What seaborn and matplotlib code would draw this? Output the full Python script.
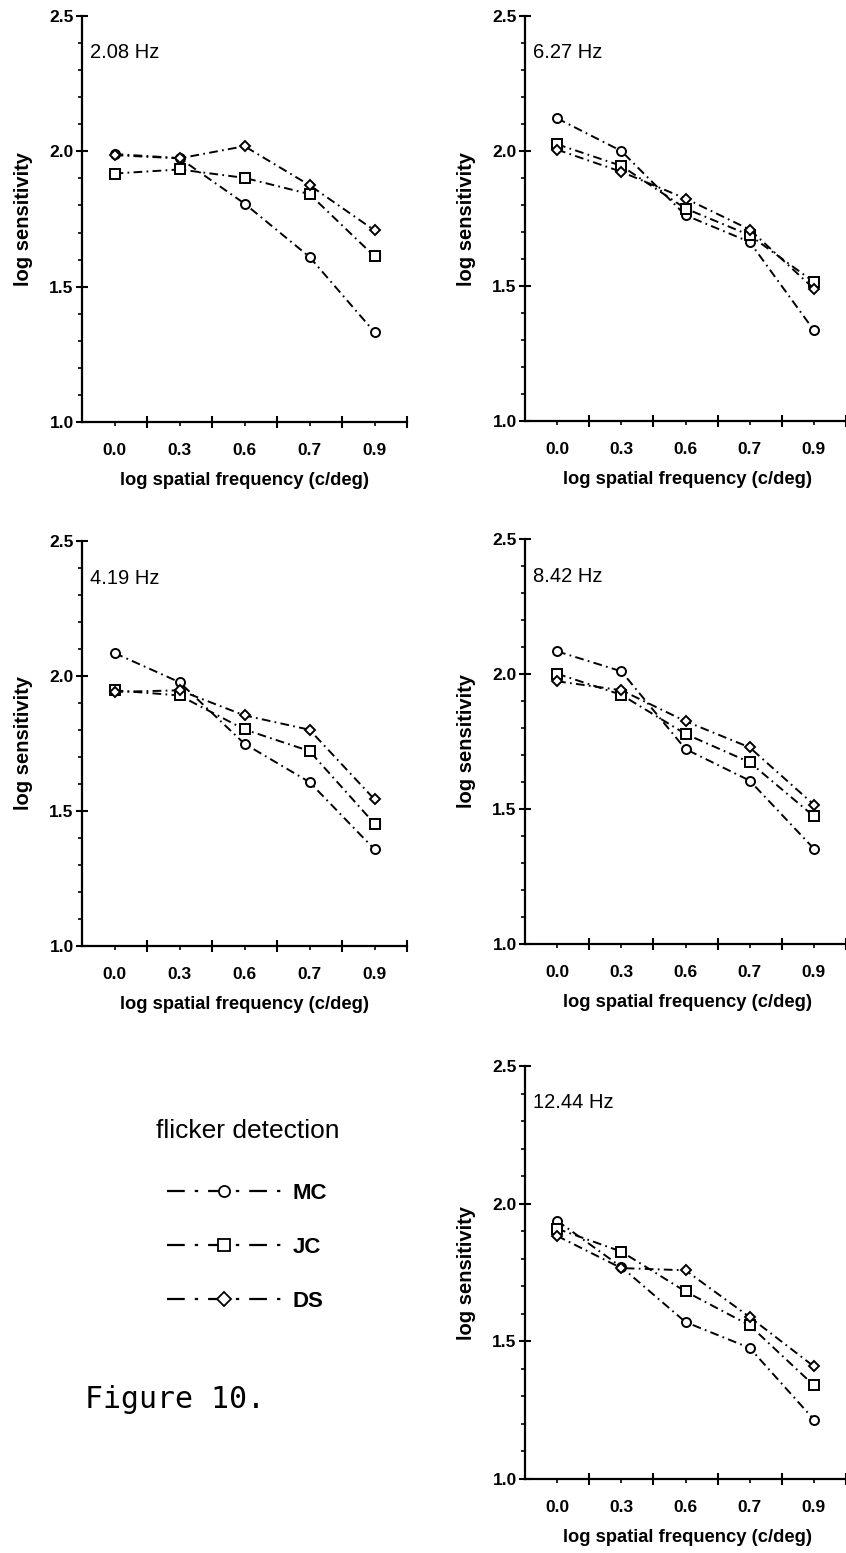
import matplotlib
matplotlib.use("Agg")
import numpy as np
import pandas as pd
import seaborn as sns
import matplotlib.pyplot as plt
from matplotlib.lines import Line2D

sns.set_theme(style="ticks")
plt.rcParams["font.family"] = ["Liberation Sans", "DejaVu Sans"]
plt.rcParams["text.color"] = "black"
plt.rcParams["axes.labelcolor"] = "black"
plt.rcParams["xtick.color"] = "black"
plt.rcParams["ytick.color"] = "black"

# ---------------- data ----------------
spatial_freq_labels = ["0.0", "0.3", "0.6", "0.7", "0.9"]
observers = ["MC", "JC", "DS"]
panel_titles = ["2.08 Hz", "6.27 Hz", "4.19 Hz", "8.42 Hz", "12.44 Hz"]

mc_208 = [1.990, 1.975, 1.807, 1.610, 1.332]
jc_208 = [1.918, 1.933, 1.902, 1.842, 1.612]
ds_208 = [1.986, 1.974, 2.019, 1.875, 1.708]

mc_627 = [2.121, 2.000, 1.762, 1.663, 1.336]
jc_627 = [2.025, 1.945, 1.787, 1.688, 1.515]
ds_627 = [2.005, 1.923, 1.824, 1.709, 1.490]

mc_419 = [2.085, 1.977, 1.749, 1.607, 1.358]
jc_419 = [1.947, 1.928, 1.802, 1.722, 1.453]
ds_419 = [1.941, 1.947, 1.854, 1.801, 1.543]

mc_842 = [2.084, 2.010, 1.722, 1.605, 1.353]
jc_842 = [2.001, 1.923, 1.778, 1.673, 1.473]
ds_842 = [1.973, 1.940, 1.825, 1.728, 1.516]

mc_1244 = [1.938, 1.770, 1.570, 1.476, 1.216]
jc_1244 = [1.909, 1.826, 1.681, 1.558, 1.340]
ds_1244 = [1.883, 1.766, 1.758, 1.588, 1.409]

panel_data = {
    "2.08 Hz": {"MC": mc_208, "JC": jc_208, "DS": ds_208},
    "6.27 Hz": {"MC": mc_627, "JC": jc_627, "DS": ds_627},
    "4.19 Hz": {"MC": mc_419, "JC": jc_419, "DS": ds_419},
    "8.42 Hz": {"MC": mc_842, "JC": jc_842, "DS": ds_842},
    "12.44 Hz": {"MC": mc_1244, "JC": jc_1244, "DS": ds_1244},
}

rows = []
for p, d in panel_data.items():
    for obs in observers:
        for i, v in enumerate(d[obs]):
            rows.append({"panel": p, "observer": obs, "pos": i,
                         "sf": spatial_freq_labels[i], "sens": v})
df = pd.DataFrame(rows)

# ---------------- styling ----------------
markers = {"MC": "o", "JC": "s", "DS": "D"}
msizes = {"MC": 6.5, "JC": 6.5, "DS": 5.5}
dash = (0, (4.5, 2.2, 0.9, 2.2))

W, H = 846, 1553
fig = plt.figure(figsize=(W / 100, H / 100), dpi=100)

# axes rectangles in pixels: left, top, right, bottom
rects = {
    "2.08 Hz": (82, 16, 407, 422),
    "6.27 Hz": (525, 16, 846, 421),
    "4.19 Hz": (82, 541, 407, 946),
    "8.42 Hz": (525, 539, 846, 944),
    "12.44 Hz": (525, 1066, 846, 1479),
}

for p in panel_titles:
    l, t, r, b = rects[p]
    ax = fig.add_axes([l / W, 1 - b / H, (r - l) / W, (b - t) / H])
    sub = df[df["panel"] == p]
    for obs in observers:
        s = sub[sub["observer"] == obs]
        sns.lineplot(data=s, x="pos", y="sens", ax=ax, color="black",
                     linewidth=1.4, linestyle=dash, marker=markers[obs],
                     markersize=msizes[obs], markerfacecolor="white",
                     markeredgecolor="black", markeredgewidth=1.4,
                     legend=False, zorder=3)
    wpx = r - l
    hpx = b - t
    ax.set_xlim(-0.5, -0.5 + wpx / 65.0)
    ax.set_ylim(1.0, 2.5)
    ax.spines["top"].set_visible(False)
    ax.spines["right"].set_visible(False)
    for sp in ["left", "bottom"]:
        ax.spines[sp].set_linewidth(1.6)
        ax.spines[sp].set_color("black")
    # x ticks: boundaries (major, crossing) + category positions (minor, labelled)
    ax.set_xticks([0.5, 1.5, 2.5, 3.5, 4.5])
    ax.set_xticklabels([])
    ax.set_xticks(range(len(spatial_freq_labels)), spatial_freq_labels, minor=True)
    ax.tick_params(axis="x", which="major", direction="inout", length=8,
                   width=1.5)
    ax.tick_params(axis="x", which="minor", direction="out", length=3,
                   width=1.2, pad=12, labelsize=12.5)
    for lab in ax.get_xticklabels(minor=True):
        lab.set_fontweight("bold")
    # y ticks
    ax.set_yticks([1.0, 1.5, 2.0, 2.5])
    ax.set_yticklabels(["1.0", "1.5", "2.0", "2.5"])
    ax.set_yticks(np.arange(1.0, 2.51, 0.1), minor=True)
    ax.tick_params(axis="y", which="major", direction="inout", length=8,
                   width=1.5, pad=2, labelsize=12.5)
    ax.tick_params(axis="y", which="minor", direction="out", length=3,
                   width=1.2)
    for lab in ax.get_yticklabels():
        lab.set_fontweight("bold")
    ax.set_xlabel("log spatial frequency (c/deg)", fontsize=13.2,
                  fontweight="bold")
    ax.xaxis.set_label_coords(0.5 * 325 / wpx, -50 / hpx)
    ax.set_ylabel("log sensitivity", fontsize=14.5, fontweight="bold")
    ax.yaxis.set_label_coords(-49 / wpx, 0.5)
    ax.text(8 / wpx, 1 - 37 / hpx, p, transform=ax.transAxes,
            fontsize=14.5, va="center", ha="left")

# legend in the empty lower-left slot
handles = [Line2D([], [], color="black", linewidth=1.6,
                  linestyle=(0, (8, 4.5, 1.5, 4.5)), marker=markers[o],
                  markersize=msizes[o] + 1.5, markerfacecolor="white",
                  markeredgecolor="black", markeredgewidth=1.3)
           for o in observers]
leg = fig.legend(handles, observers, title="flicker detection",
                 loc="upper left", bbox_to_anchor=(140 / W, 1 - 1103 / H),
                 frameon=False, handlelength=5.1, handletextpad=0.55,
                 labelspacing=1.48, fontsize=16, title_fontsize=19,
                 numpoints=1, borderpad=0.2)
leg._legend_box.sep = 29
for t in leg.get_texts():
    t.set_fontweight("bold")

fig.text(85 / W, 1 - 1399 / H, "Figure 10.", family="DejaVu Sans Mono",
         fontsize=21.5, va="center", ha="left")

fig.savefig("out.png", dpi=100)
